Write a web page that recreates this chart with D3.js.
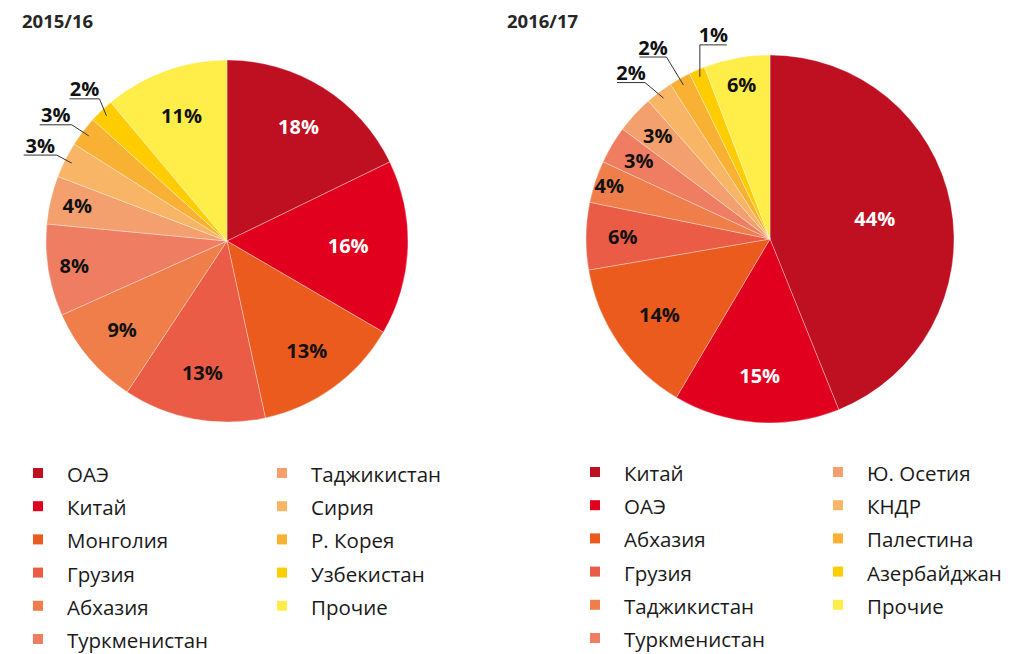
<!DOCTYPE html>
<html><head><meta charset="utf-8">
<script src="https://cdn.jsdelivr.net/npm/d3@7"></script>
<style>body{margin:0;background:#fff}svg{display:block}</style>
</head><body>
<svg id="c" width="1010" height="654"></svg>
<script>
// ---- data ----
const titles = ["2015/16", "2016/17"];
const cats1 = ["ОАЭ","Китай","Монголия","Грузия","Абхазия","Туркменистан","Таджикистан","Сирия","Р. Корея","Узбекистан","Прочие"];
const vals1 = [17.8, 15.6, 13.2, 12.7, 9.0, 8.2, 4.3, 3.2, 2.7, 2.2, 11.1];
const cats2 = ["Китай","ОАЭ","Абхазия","Грузия","Таджикистан","Туркменистан","Ю. Осетия","КНДР","Палестина","Азербайджан","Прочие"];
const vals2 = [43.9, 14.6, 13.8, 5.9, 3.7, 3.3, 3.3, 2.4, 1.9, 1.4, 5.8];
const palette = ["#BE1020","#E2001F","#EA5B1D","#EA5C45","#EF7E4A","#EF7D62","#F39F6E","#F8B565","#F8B133","#FFCC00","#FFED4A"];

// ---- layout ----
const charts = [
  {cats: cats1, vals: vals1, cx: 227, cy: 241, r: 181, title: titles[0], tx: 22,
   labelR: [0.745,0.67,0.75,0.74,0.76,0.855,0.85,null,null,null,0.735],
   white: [0,1],
   outside: {7:{dx:-15,dy:-8,len:33,side:-1}, 8:{dx:-17,dy:-11,len:32,side:-1}, 9:{dx:-7,dy:-17,len:30,side:-1}},
   legX: 33, legX2: 277, legY: 482},
  {cats: cats2, vals: vals2, cx: 770, cy: 239, r: 184, title: titles[1], tx: 507,
   labelR: [0.58,0.745,0.73,0.80,0.92,0.83,0.83,null,null,null,0.85],
   white: [0,1],
   outside: {7:{dx:-18.5,dy:-15.5,len:28,side:-1}, 8:{dx:-17,dy:-28,len:27,side:-1}, 9:{dx:0,dy:-32,len:27,side:1}},
   legX: 590, legX2: 833, legY: 481}
];

const svg = d3.select("#c");
const FONT = "'Open Sans', 'DejaVu Sans', sans-serif";

charts.forEach(ch => {
  const g = svg.append("g");
  g.append("text").attr("x", ch.tx).attr("y", 28)
    .attr("font-family", FONT).attr("font-weight", 700).attr("font-size", 18.5)
    .attr("fill", "#262626").text(ch.title);

  const color = d3.scaleOrdinal().domain(ch.cats).range(palette);
  const pie = d3.pie().sort(null).value(d => d.v);
  const data = pie(ch.cats.map((c, i) => ({c, v: ch.vals[i], i})));
  const arc = d3.arc().innerRadius(0).outerRadius(ch.r);
  const pg = g.append("g").attr("transform", `translate(${ch.cx},${ch.cy})`);

  pg.selectAll("path").data(data).join("path")
    .attr("d", arc)
    .attr("fill", d => color(d.data.c))
    .attr("stroke", "rgba(255,255,255,0.55)").attr("stroke-width", 0.6);

  data.forEach((d, i) => {
    const lbl = Math.round(d.data.v) + "%";
    const mid = (d.startAngle + d.endAngle) / 2;
    const polar = k => [Math.sin(mid) * ch.r * k, -Math.cos(mid) * ch.r * k];
    if (ch.labelR[i] != null) {
      const [x, y] = polar(ch.labelR[i]);
      pg.append("text").attr("x", x).attr("y", y).attr("dy", "0.36em")
        .attr("text-anchor", "middle")
        .attr("font-family", FONT).attr("font-weight", 700).attr("font-size", 20)
        .attr("fill", ch.white.includes(i) ? "#fff" : "#111").text(lbl);
    } else {
      const o = ch.outside[i];
      const [ex, ey] = polar(0.96);
      const bx = ex + o.dx, by = ey + o.dy;
      const ux = bx + o.side * o.len;
      pg.append("path")
        .attr("d", `M${ex},${ey}L${bx},${by}L${ux},${by}`)
        .attr("fill", "none").attr("stroke", "#333").attr("stroke-width", 1);
      pg.append("text").attr("x", (bx + ux) / 2).attr("y", by - 2.5)
        .attr("text-anchor", "middle")
        .attr("font-family", FONT).attr("font-weight", 700).attr("font-size", 20)
        .attr("fill", "#111").text(lbl);
    }
  });

  // legend
  const lg = g.append("g");
  ch.cats.forEach((c, i) => {
    const col = i < 6 ? 0 : 1;
    const row = i < 6 ? i : i - 6;
    const x = col ? ch.legX2 : ch.legX;
    const y = ch.legY + row * 33.2;
    lg.append("rect").attr("x", x).attr("y", y - 14).attr("width", 10).attr("height", 10)
      .attr("fill", color(c));
    lg.append("text").attr("x", x + 34).attr("y", y)
      .attr("font-family", FONT).attr("font-size", 20.5).attr("fill", "#1a1a1a").text(c);
  });
});
</script>
</body></html>
